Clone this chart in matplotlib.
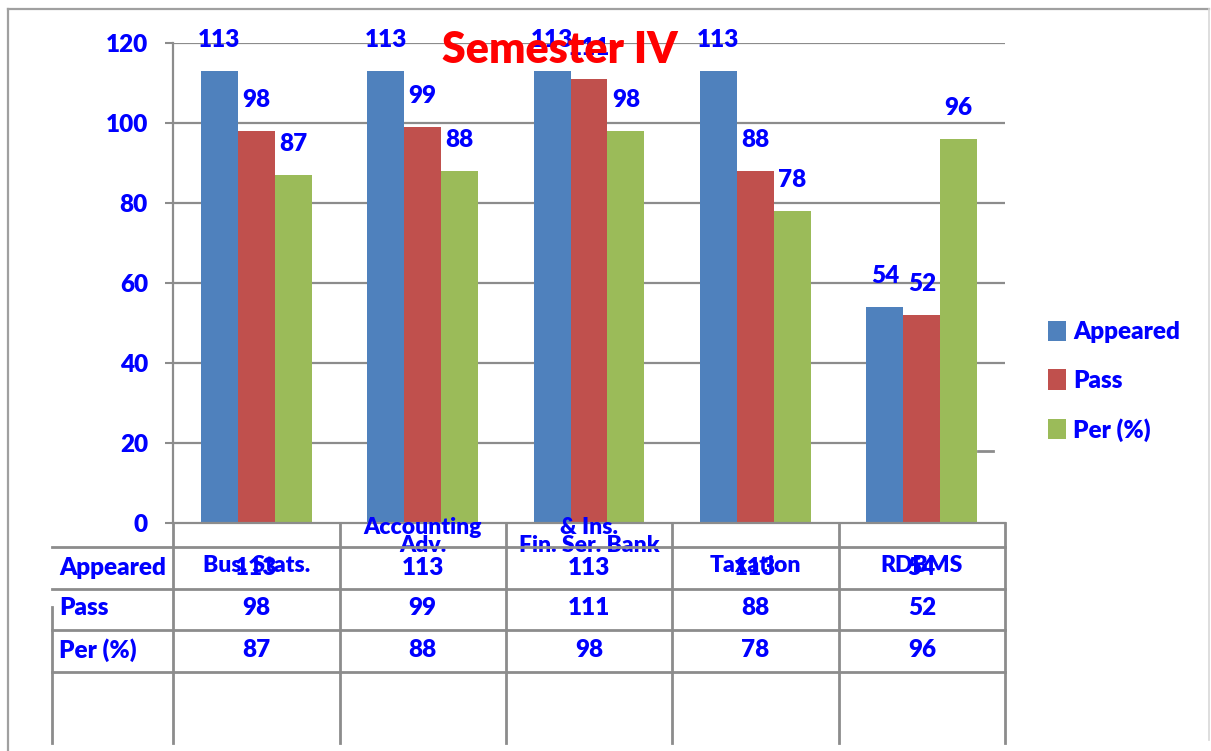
import matplotlib
matplotlib.use("Agg")
import matplotlib.pyplot as plt
from matplotlib.lines import Line2D
from matplotlib.transforms import blended_transform_factory
import numpy as np

plt.rcParams['font.family'] = ['Lato', 'DejaVu Sans']
plt.rcParams['font.weight'] = 'heavy'

subjects = ["Bus. Stats.", "Accounting Adv.", "Fin. Ser. Bank & Ins.", "Taxation", "RDBMS"]
subject_lines = [["Bus. Stats."], ["Accounting", "Adv."], ["& Ins.", "Fin. Ser. Bank"],
                 ["Taxation"], ["RDBMS"]]
series = ["Appeared", "Pass", "Per (%)"]
appeared = [113, 113, 113, 113, 54]
passed = [98, 99, 111, 88, 52]
per_cent = [87, 88, 98, 78, 96]
values = [appeared, passed, per_cent]
colors = ["#4F81BD", "#C0504D", "#9BBB59"]

BLUE = "#0000FF"
GRID = "#8C8C8C"
WT = 'heavy'
W, H = 1211, 751


def fx(p):
    return p / W


def fy(p):
    return 1 - p / H


fig = plt.figure(figsize=(W / 100, H / 100), dpi=100)
ax = fig.add_axes([fx(173), fy(523), fx(1005) - fx(173), fy(43) - fy(523)])

x = np.arange(len(subjects)) + 0.5
bw = 0.222
bars = []
for i, (vals, c) in enumerate(zip(values, colors)):
    b = ax.bar(x + (i - 1) * bw, vals, width=bw, color=c, label=series[i], zorder=2)
    bars.append(b)
    for xi, v in zip(x + (i - 1) * bw, vals):
        ax.annotate(str(v), (xi, v), xytext=(0, 22), textcoords='offset points',
                    ha='center', va='center', color=BLUE, fontsize=17.5,
                    fontweight=WT, zorder=5, annotation_clip=False)

ax.set_xlim(0, len(subjects))
ax.set_ylim(0, 120)
ax.set_yticks(range(0, 121, 20))
ax.set_xticks([])
ax.tick_params(axis='y', length=6, width=1.5, color=GRID, pad=12,
               labelsize=17.5, labelcolor=BLUE)
for t in ax.get_yticklabels():
    t.set_fontweight(WT)

# gridlines, the 20 line stops under the last bar
for g in range(20, 121, 20):
    if g == 20:
        ax.plot([0, 4.8], [g, g], color=GRID, lw=1.6, zorder=1)
    else:
        ax.axhline(g, color=GRID, lw=1.6, zorder=1)
ax.plot([4.84, 4.93], [18, 18], color=GRID, lw=2, zorder=1, clip_on=False)

for s in ['top', 'right']:
    ax.spines[s].set_visible(False)
for s in ['left', 'bottom']:
    ax.spines[s].set_color(GRID)
    ax.spines[s].set_linewidth(1.6)

# title
fig.text(fx(560), fy(50), "Semester IV", color="#FF0000", fontsize=31,
         fontweight=WT, ha='center', va='center', zorder=6)

# data table beneath the axis
tr = blended_transform_factory(ax.transData, fig.transFigure)
for ypix in [547, 589, 630, 672]:
    fig.add_artist(Line2D([fx(52), fx(1005)], [fy(ypix), fy(ypix)],
                          color=GRID, lw=2, zorder=4))
for xpix in [173, 340, 506, 672, 839, 1005]:
    fig.add_artist(Line2D([fx(xpix), fx(xpix)], [fy(523), fy(743)],
                          color=GRID, lw=2, zorder=4))
fig.add_artist(Line2D([fx(52), fx(52)], [fy(607), fy(743)], color=GRID, lw=2, zorder=4))

for xi, lines in zip(x, subject_lines):
    ys = [565] if len(lines) == 1 else [528, 545]
    for txt, yp in zip(lines, ys):
        ax.text(xi, fy(yp), txt, transform=tr, ha='center', va='center',
                color=BLUE, fontsize=16.5, fontweight=WT, zorder=3, clip_on=False)

for name, vals, yp in zip(series, values, [568, 608, 650]):
    fig.text(fx(59), fy(yp), name, ha='left', va='center', color=BLUE,
             fontsize=17.5, fontweight=WT)
    for xi, v in zip(x, vals):
        ax.text(xi, fy(yp), str(v), transform=tr, ha='center', va='center',
                color=BLUE, fontsize=17.5, fontweight=WT, clip_on=False)

# legend
leg = fig.legend(handles=bars, labels=series, loc='upper left',
                 bbox_to_anchor=(fx(1026), fy(299)), frameon=False,
                 handlelength=0.75, handleheight=0.9, handletextpad=0.3,
                 labelspacing=1.07, prop={'size': 17.5, 'weight': WT})
for t in leg.get_texts():
    t.set_color(BLUE)

# outer frame
fig.add_artist(Line2D([fx(8), fx(1209)], [fy(9), fy(9)], color="#A0A0A0", lw=1.6))
fig.add_artist(Line2D([fx(8), fx(8)], [fy(9), 0], color="#A0A0A0", lw=1.6))
fig.add_artist(Line2D([fx(1209), fx(1209)], [fy(9), fy(740)], color="#D8D8D8", lw=1.2))

fig.savefig("out.png", dpi=100)
